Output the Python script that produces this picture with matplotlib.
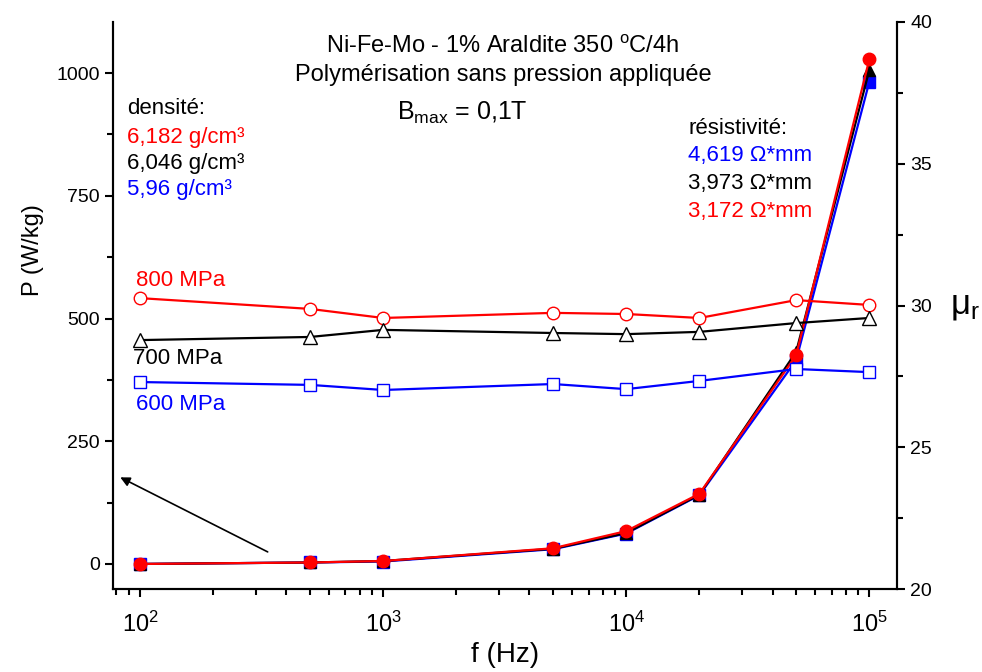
import numpy as np
import matplotlib
matplotlib.use("Agg")
import matplotlib.pyplot as plt
from matplotlib.ticker import MultipleLocator, LogLocator, NullFormatter

plt.rcParams["font.family"] = "Liberation Sans"
plt.rcParams["mathtext.fontset"] = "custom"
plt.rcParams["mathtext.rm"] = "Liberation Sans"
plt.rcParams["mathtext.it"] = "Liberation Sans"
plt.rcParams["mathtext.bf"] = "Liberation Sans:bold"

# Data
freq = [100, 500, 1000, 5000, 10000, 20000, 50000, 100000]

# losses P (W/kg), left axis
p_800 = [0, 3, 6, 32, 67, 143, 425, 1028]
p_700 = [0, 3, 6, 31, 63, 141, 432, 1006]
p_600 = [0, 3, 5, 30, 62, 140, 415, 982]

# permeability mu_r, right axis
mu_800 = [30.26, 29.88, 29.56, 29.74, 29.70, 29.56, 30.19, 30.02]
mu_700 = [28.78, 28.89, 29.14, 29.03, 28.99, 29.07, 29.38, 29.56]
mu_600 = [27.30, 27.20, 27.02, 27.23, 27.05, 27.34, 27.76, 27.65]

W, H = 982, 672
fig = plt.figure(figsize=(W / 100, H / 100), dpi=100)
ax = fig.add_axes([113 / W, 1 - 589 / H, 784 / W, 567 / H])
ax2 = ax.twinx()

lw = 1.6
ax.plot(freq, p_600, color="blue", marker="s", ms=8, lw=lw)
ax.plot(freq, p_700, color="black", marker="^", ms=9, lw=lw)
ax.plot(freq, p_800, color="red", marker="o", ms=9, lw=lw)

ax2.plot(freq, mu_800, color="red", marker="o", ms=9, mfc="white", lw=lw)
ax2.plot(freq, mu_700, color="black", marker="^", ms=10, mfc="white", lw=lw)
ax2.plot(freq, mu_600, color="blue", marker="s", ms=8, mfc="white", lw=lw)

ax.set_xscale("log")
ax.set_xlim(77.4, 1.30e5)
ax.set_ylim(-51, 1104)
ax2.set_ylim(20, 40)

ax.yaxis.set_major_locator(MultipleLocator(250))
ax.yaxis.set_minor_locator(MultipleLocator(125))
ax2.yaxis.set_major_locator(MultipleLocator(5))
ax2.yaxis.set_minor_locator(MultipleLocator(2.5))
ax.xaxis.set_major_locator(LogLocator(base=10, numticks=10))
ax.xaxis.set_minor_locator(LogLocator(base=10, subs=np.arange(2, 10), numticks=10))
ax.xaxis.set_minor_formatter(NullFormatter())

for a in (ax, ax2):
    a.spines["top"].set_visible(False)
    for s in a.spines.values():
        s.set_linewidth(1.5)
    a.tick_params(which="major", direction="out", length=6, width=1.5, labelsize=14)
    a.tick_params(which="minor", direction="out", length=4, width=1.5)
ax.tick_params(axis="x", pad=10, labelsize=17)

ax.set_xlabel("f (Hz)", fontsize=20, labelpad=4)
fig.text(33 / W, 1 - 250 / H, "P (W/kg)", fontsize=17, rotation=90,
         ha="center", va="center")
fig.text(965 / W, 1 - 305 / H, r"$\mu_r$", fontsize=25, ha="center", va="center")


def ftext(x, y, s, **kw):
    fig.text(x / W, 1 - y / H, s, va="center", **kw)


fs = 16
ftext(503, 47, r"Ni-Fe-Mo - 1% Araldite 350 $^{\rm o}$C/4h", fontsize=17, ha="center")
ftext(503, 75, "Polymérisation sans pression appliquée", fontsize=17, ha="center")
ftext(462, 113, r"B$_{\rm max}$ = 0,1T", fontsize=18, ha="center")

ftext(127, 108, "densité:", fontsize=fs)
ftext(127, 137, "6,182 g/cm³", fontsize=fs, color="red")
ftext(127, 163, "6,046 g/cm³", fontsize=fs, color="black")
ftext(127, 189, "5,96 g/cm³", fontsize=fs, color="blue")

ftext(688, 128, "résistivité:", fontsize=fs)
ftext(688, 155, "4,619 Ω*mm", fontsize=fs, color="blue")
ftext(688, 183, "3,973 Ω*mm", fontsize=fs, color="black")
ftext(688, 211, "3,172 Ω*mm", fontsize=fs, color="red")

ftext(136, 281, "800 MPa", fontsize=fs, color="red")
ftext(133, 359, "700 MPa", fontsize=fs, color="black")
ftext(136, 405, "600 MPa", fontsize=fs, color="blue")

ax.annotate("", xy=(81, 179), xytext=(343, 22),
            arrowprops=dict(arrowstyle="-|>", color="black", lw=1.2,
                            mutation_scale=14))

fig.savefig("out.png", dpi=100)
